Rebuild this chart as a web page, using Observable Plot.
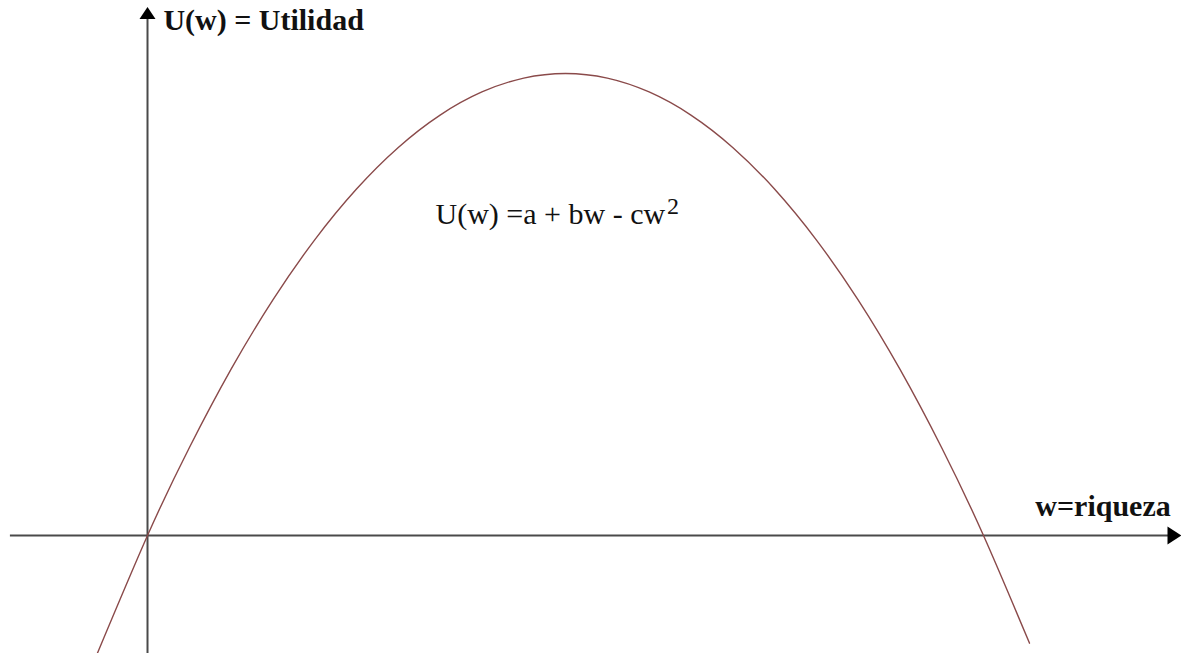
<!DOCTYPE html>
<html>
<head>
<meta charset="utf-8">
<script src="https://cdn.jsdelivr.net/npm/d3@7"></script>
<script src="https://cdn.jsdelivr.net/npm/@observablehq/plot@0.6"></script>
<style>
  html, body { margin: 0; padding: 0; background: #fff; }
  #chart svg { display: block; }
</style>
</head>
<body>
<div id="chart"></div>
<script>
// Values (wealth w, utility U)
const wealth  = [-1.25, 0, 1, 2, 3, 4, 5, 6, 7, 8, 9, 10, 11, 12, 13, 14, 15, 16, 17, 18, 19, 20, 21.1];
const utility = [-26.6, 0, 19, 36, 51, 64, 75, 84, 91, 96, 99, 100, 99, 96, 91, 84, 75, 64, 51, 36, 19, 0, -23.3];

const yAxisLabel = "U(w) = Utilidad";
const xAxisLabel = "w=riqueza";
const equationText = "U(w) =a + bw - cw";
const equationExp = "2";

const curve = wealth.map((w, i) => ({w, u: utility[i]}));

const xDomain = [-3.517, 24.737];
const yDomain = [-25.54, 115.8];

const rightArrow = {draw(ctx) { ctx.moveTo(-14, -9); ctx.lineTo(0, 0); ctx.lineTo(-14, 9); ctx.closePath(); }};
const upArrow = {draw(ctx) { ctx.moveTo(-8, 12); ctx.lineTo(0, 0); ctx.lineTo(8, 12); ctx.closePath(); }};

const serif = "'Liberation Serif', 'Times New Roman', serif";
const axisColor = "#4a4a4a";

const chart = Plot.plot({
  width: 1181,
  height: 653,
  margin: 0,
  style: {background: "#fff", overflow: "visible"},
  x: {domain: xDomain, range: [0, 1181], axis: null},
  y: {domain: yDomain, range: [653, 0], axis: null},
  marks: [
    Plot.ruleY([0], {x1: -3.28, x2: 24.45, stroke: axisColor, strokeWidth: 2}),
    Plot.ruleX([0], {y1: yDomain[0], y2: 112.5, stroke: axisColor, strokeWidth: 2}),
    Plot.dot([{x: xDomain[1], y: 0}], {x: "x", y: "y", symbol: rightArrow, fill: "#000", stroke: "none"}),
    Plot.dot([{x: 0, y: 114.4}], {x: "x", y: "y", symbol: upArrow, fill: "#000", stroke: "none"}),
    Plot.line(curve, {x: "w", y: "u", curve: "natural", stroke: "#8a4a4a", strokeWidth: 1.4, clip: true}),
    Plot.text([yAxisLabel], {x: 0.38, y: 109.5, text: d => d, textAnchor: "start", lineAnchor: "bottom",
      fontFamily: serif, fontWeight: "bold", fontSize: 30, fill: "#111"}),
    Plot.text([xAxisLabel], {x: 21.24, y: 4.3, text: d => d, textAnchor: "start", lineAnchor: "bottom",
      fontFamily: serif, fontWeight: "bold", fontSize: 30, fill: "#111"}),
    Plot.text([equationText], {x: 6.89, y: 67.5, text: d => d, textAnchor: "start", lineAnchor: "bottom",
      fontFamily: serif, fontSize: 30, fill: "#111"}),
    Plot.text([equationExp], {x: 12.43, y: 69.5, text: d => d, textAnchor: "start", lineAnchor: "bottom",
      fontFamily: serif, fontSize: 24, fill: "#111"})
  ]
});
document.getElementById("chart").appendChild(chart);
</script>
</body>
</html>
